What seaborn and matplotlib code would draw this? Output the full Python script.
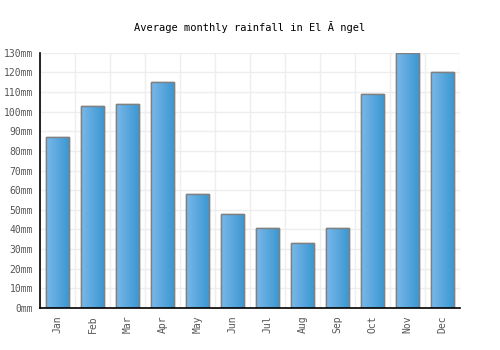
import numpy as np
import pandas as pd
import seaborn as sns
import matplotlib
matplotlib.use("Agg")
import matplotlib.pyplot as plt
from matplotlib.colors import LinearSegmentedColormap

# data
months = ["Jan", "Feb", "Mar", "Apr", "May", "Jun",
          "Jul", "Aug", "Sep", "Oct", "Nov", "Dec"]
rainfall = [87, 103, 104, 115, 58, 48, 41, 33, 41, 109, 130, 120]
yticks = list(range(0, 131, 10))
title = "Average monthly rainfall in El Ă ngel"

df = pd.DataFrame({"month": months, "rain": rainfall})

sns.set_style("white")
plt.rcParams["font.family"] = ["DejaVu Sans Mono", "DejaVu Sans"]

fig = plt.figure(figsize=(5, 3.5), dpi=100)
ax = fig.add_axes([0.08, 0.12, 0.84, 0.729])

sns.barplot(data=df, x="month", y="rain", ax=ax, width=0.67,
            color="#4a9fdc", edgecolor="#808080", linewidth=1, saturation=1)

# horizontal gradient inside each bar
cmap = LinearSegmentedColormap.from_list("bar", ["#7ab8ea", "#3996d0"])
grad = np.linspace(0, 1, 64).reshape(1, -1)
for p in ax.patches:
    x0, y0 = p.get_x(), p.get_y()
    w, h = p.get_width(), p.get_height()
    im = ax.imshow(grad, cmap=cmap, aspect="auto", extent=[x0, x0 + w, y0, y0 + h],
                   zorder=p.get_zorder() + 0.1)
    im.set_clip_path(p)
    edge = plt.Rectangle((x0, y0), w, h, fill=False, edgecolor="#808080",
                         linewidth=1, zorder=p.get_zorder() + 0.2)
    ax.add_patch(edge)

ax.set_xlim(-0.5, len(months) - 0.5)
ax.set_ylim(0, 130)
ax.set_yticks(yticks)
ax.set_yticklabels([f"{v}mm" for v in yticks])
ax.set_xticks(range(len(months)))
ax.set_xticklabels(months, rotation=90)

# grid on category borders and y ticks
ax.set_xticks(np.arange(-0.5, len(months), 1), minor=True)
ax.grid(which="minor", axis="x", color="#eeeeee", linewidth=1)
ax.grid(which="major", axis="y", color="#eeeeee", linewidth=1)
ax.set_axisbelow(True)

ax.tick_params(axis="both", which="both", length=0, labelsize=7, colors="#555555", pad=5)
ax.set_xlabel("")
ax.set_ylabel("")
for s in ["top", "right"]:
    ax.spines[s].set_visible(False)
for s in ["left", "bottom"]:
    ax.spines[s].set_color("black")
    ax.spines[s].set_linewidth(1.2)

fig.text(0.5, 0.923, title, ha="center", va="center", fontsize=7.5, color="black")

fig.savefig("out.png", dpi=100)
